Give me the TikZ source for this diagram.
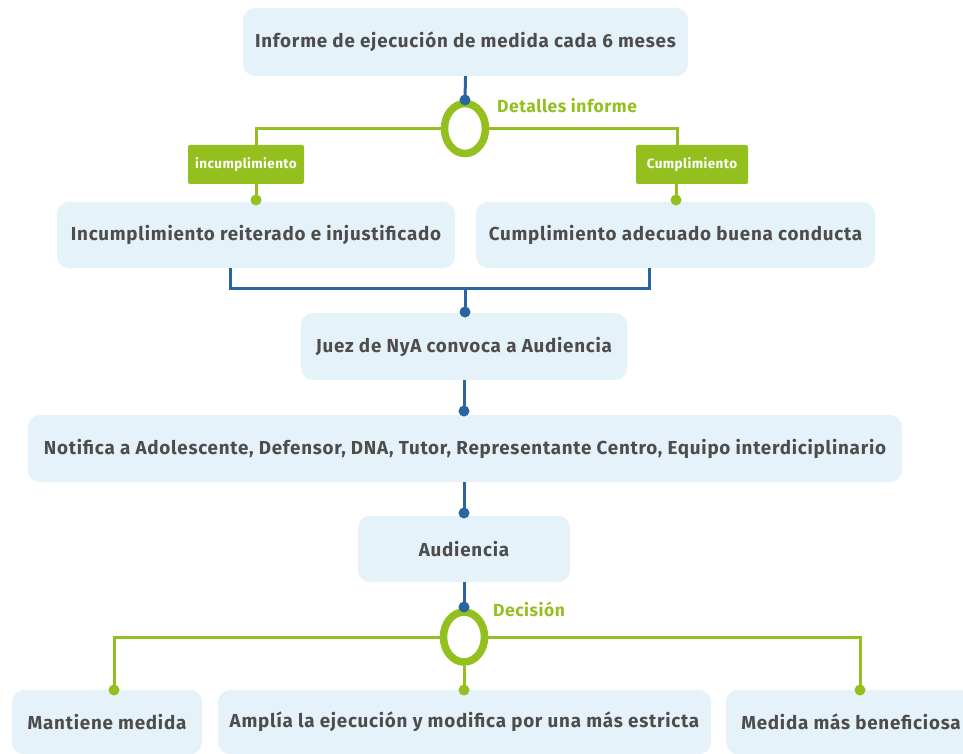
\documentclass[tikz,border=0pt]{standalone}
\usepackage{fontspec}
\setmainfont{Fira Sans}
\newfontfamily\boxfont[LetterSpace=4]{Fira Sans}
\newfontfamily\tagfont[LetterSpace=3]{Fira Sans}
\usetikzlibrary{shapes.geometric}
\definecolor{boxfill}{HTML}{E6F2F9}
\definecolor{txt}{HTML}{4D4D4D}
\definecolor{bl}{HTML}{2B65A0}
\definecolor{gr}{HTML}{93C01F}
\tikzset{
  x=1pt,y=-1pt,
  stepbox/.style={fill=boxfill,rounded corners=12pt,text=txt,font=\boxfont\fontsize{18.8}{22}\selectfont\bfseries,inner sep=0pt},
  tagbox/.style={fill=gr,rounded corners=2pt,text=white,font=\tagfont\fontsize{13.5}{15}\selectfont\bfseries,inner sep=0pt},
  bline/.style={draw=bl,line width=3pt},
  gline/.style={draw=gr,line width=3pt},
  ring/.style={draw=gr,line width=7.5pt,ellipse,minimum width=41pt,minimum height=50pt,inner sep=0pt},
  bdot/.style={circle,fill=bl,inner sep=0pt,minimum size=11pt},
  gdot/.style={circle,fill=gr,inner sep=0pt,minimum size=11pt},
  lbl/.style={text=gr,font=\tagfont\fontsize{17.5}{19}\selectfont\bfseries,anchor=west,inner sep=0pt}
}
\begin{document}
\begin{tikzpicture}
\useasboundingbox (0,0) rectangle (963,754);
% boxes
\node[stepbox,minimum width=445pt,minimum height=68pt] (b1) at (465.5,42) {Informe de ejecución de medida cada 6 meses};
\node[stepbox,minimum width=398pt,minimum height=66pt] (b2) at (256,235) {Incumplimiento reiterado e injustificado};
\node[stepbox,minimum width=399pt,minimum height=66pt] (b3) at (675.5,235) {Cumplimiento adecuado buena conducta};
\node[stepbox,minimum width=326pt,minimum height=67pt] (b4) at (464,346.5) {Juez de NyA convoca a Audiencia};
\node[stepbox,minimum width=874pt,minimum height=67pt] (b5) at (465,448.5) {Notifica a Adolescente, Defensor, DNA, Tutor, Representante Centro, Equipo interdiciplinario};
\node[stepbox,minimum width=212pt,minimum height=66pt] (b6) at (464,549) {Audiencia};
\node[stepbox,minimum width=190pt,minimum height=64pt] (b7) at (107,722) {Mantiene medida};
\node[stepbox,minimum width=493pt,minimum height=64pt] (b8) at (464.5,722) {Amplía la ejecución y modifica por una más estricta};
\node[stepbox,minimum width=250pt,minimum height=64pt] (b9) at (851,722) {Medida más beneficiosa};
% tags
\node[tagbox,minimum width=116pt,minimum height=39pt] (t1) at (246,164.5) {incumplimiento};
\node[tagbox,minimum width=112pt,minimum height=39pt] (t2) at (692,164.5) {Cumplimiento};
% rings
\node[ring] (r1) at (465,128.5) {};
\node[ring] (r2) at (464,637) {};
\node[lbl] (l1) at (497,106) {Detalles informe};
\node[lbl] (l2) at (493,609) {Decisión};
% coordinates
\coordinate (c1) at (256,128.5);
\coordinate (c2) at (677,128.5);
\coordinate (c3) at (230,288);
\coordinate (c4) at (649,288);
\coordinate (c5) at (465,288);
\coordinate (c6) at (114,637);
\coordinate (c7) at (860,637);
% dot positions
\coordinate (d1) at (465,100);
\coordinate (d2) at (256,200);
\coordinate (d3) at (676,200);
\coordinate (d4) at (465,312);
\coordinate (d5) at (464,411);
\coordinate (d6) at (464,513);
\coordinate (d7) at (464,607);
\coordinate (d8) at (114,690);
\coordinate (d9) at (464,690);
\coordinate (d10) at (860,690);
% green connectors
\draw[gline] (r1.west) -- (c1) -- (t1.north -| c1);
\draw[gline] (r1.east) -- (c2) -- (t2.north -| c2);
\draw[gline] (t1.south -| d2) -- (d2);
\draw[gline] (t2.south -| d3) -- (d3);
\draw[gline] (r2.west) -- (c6) -- (d8);
\draw[gline] (r2.east) -- (c7) -- (d10);
\draw[gline] (r2.south) -- (d9);
% blue connectors
\draw[bline] (b1.south) -- (d1);
\draw[bline] (b2.south -| c3) -- (c3) -- (c4) -- (b3.south -| c4);
\draw[bline] (c5) -- (d4);
\draw[bline] (b4.south) -- (d5);
\draw[bline] (b5.south -| d6) -- (d6);
\draw[bline] (b6.south) -- (d7);
% dots
\node[bdot] (n1) at (d1) {};
\node[gdot] (n2) at (d2) {};
\node[gdot] (n3) at (d3) {};
\node[bdot] (n4) at (d4) {};
\node[bdot] (n5) at (d5) {};
\node[bdot] (n6) at (d6) {};
\node[bdot] (n7) at (d7) {};
\node[gdot] (n8) at (d8) {};
\node[gdot] (n9) at (d9) {};
\node[gdot] (n10) at (d10) {};
\end{tikzpicture}
\end{document}
